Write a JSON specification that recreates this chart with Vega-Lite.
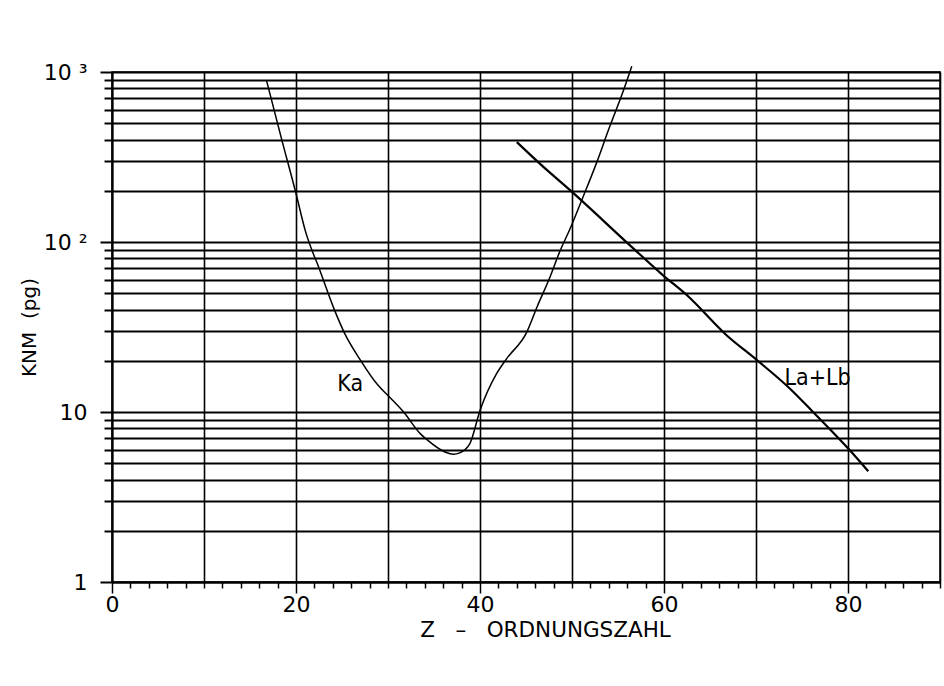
{
  "$schema": "https://vega.github.io/schema/vega-lite/v6.json",
  "width": 828,
  "height": 510,
  "autosize": {"type": "none"},
  "padding": {"left": 112, "top": 72, "right": 4, "bottom": 104},
  "background": "white",
  "config": {
    "view": {"stroke": "black", "strokeWidth": 1.5},
    "axis": {
      "labelFont": "DejaVu Sans",
      "titleFont": "DejaVu Sans",
      "labelColor": "black",
      "titleColor": "black",
      "titleFontWeight": "normal",
      "domainColor": "black",
      "tickColor": "black",
      "gridColor": "black",
      "labelOverlap": false,
      "labelFlush": false
    }
  },
  "datasets": {
    "curves": [
      {"series": "Ka", "z": 16.8, "knm": 890},
      {"series": "Ka", "z": 18.4, "knm": 410},
      {"series": "Ka", "z": 20, "knm": 193},
      {"series": "Ka", "z": 21, "knm": 117},
      {"series": "Ka", "z": 22.6, "knm": 68},
      {"series": "Ka", "z": 24.2, "knm": 39.6},
      {"series": "Ka", "z": 25.3, "knm": 28.9},
      {"series": "Ka", "z": 27, "knm": 20.2},
      {"series": "Ka", "z": 28.9, "knm": 14.4},
      {"series": "Ka", "z": 30, "knm": 12.5},
      {"series": "Ka", "z": 31.7, "knm": 10},
      {"series": "Ka", "z": 33.5, "knm": 7.46},
      {"series": "Ka", "z": 34.2, "knm": 6.9},
      {"series": "Ka", "z": 36.2, "knm": 5.82},
      {"series": "Ka", "z": 37.1, "knm": 5.64},
      {"series": "Ka", "z": 37.8, "knm": 5.75},
      {"series": "Ka", "z": 38.9, "knm": 6.52},
      {"series": "Ka", "z": 40, "knm": 10.2},
      {"series": "Ka", "z": 41.8, "knm": 16.8},
      {"series": "Ka", "z": 42.9, "knm": 20.6},
      {"series": "Ka", "z": 45.1, "knm": 29.6},
      {"series": "Ka", "z": 46.2, "knm": 41.5},
      {"series": "Ka", "z": 47.6, "knm": 62},
      {"series": "Ka", "z": 48.6, "knm": 86},
      {"series": "Ka", "z": 49.8, "knm": 120},
      {"series": "Ka", "z": 51.2, "knm": 184},
      {"series": "Ka", "z": 52.7, "knm": 295},
      {"series": "Ka", "z": 53.95, "knm": 454},
      {"series": "Ka", "z": 55.6, "knm": 780},
      {"series": "Ka", "z": 56.5, "knm": 1080},
      {"series": "La+Lb", "z": 44, "knm": 387},
      {"series": "La+Lb", "z": 46.5, "knm": 289},
      {"series": "La+Lb", "z": 50, "knm": 197},
      {"series": "La+Lb", "z": 56.3, "knm": 95.6},
      {"series": "La+Lb", "z": 59.9, "knm": 63.7},
      {"series": "La+Lb", "z": 62.5, "knm": 48.6},
      {"series": "La+Lb", "z": 66.8, "knm": 28.3},
      {"series": "La+Lb", "z": 70.1, "knm": 20.2},
      {"series": "La+Lb", "z": 73.7, "knm": 13.7},
      {"series": "La+Lb", "z": 76.2, "knm": 10},
      {"series": "La+Lb", "z": 80.2, "knm": 5.95},
      {"series": "La+Lb", "z": 82.2, "knm": 4.48}
    ],
    "labels": [
      {"label": "Ka", "z": 25.9, "knm": 14.7},
      {"label": "La+Lb", "z": 76.7, "knm": 15.8}
    ]
  },
  "layer": [
    {
      "data": {"name": "curves"},
      "mark": {"type": "line", "color": "black", "interpolate": "monotone"},
      "encoding": {
        "x": {
          "field": "z",
          "type": "quantitative",
          "scale": {"domain": [0, 90], "nice": false, "zero": false},
          "axis": {
            "values": [0,2,4,6,8,10,12,14,16,18,20,22,24,26,28,30,32,34,36,38,40,42,44,46,48,50,52,54,56,58,60,62,64,66,68,70,72,74,76,78,80,82,84,86,88,90],
            "tickCount": 200,
            "format": "d",
            "labelExpr": "datum.value % 20 == 0 ? datum.label : ''",
            "grid": true,
            "gridOpacity": {"condition": {"test": "datum.value % 10 == 0", "value": 1}, "value": 0},
            "gridWidth": 1.6,
            "tickSize": {"condition": {"test": "datum.value % 20 == 0", "value": 11}, "value": 6},
            "tickWidth": 1.5,
            "domainWidth": 2,
            "labelFontSize": 22,
            "labelPadding": 1,
            "title": "Z\u00a0\u00a0\u00a0–\u00a0\u00a0\u00a0ORDNUNGSZAHL",
            "titleFontSize": 21.5,
            "titlePadding": 4,
            "titleX": 433
          }
        },
        "y": {
          "field": "knm",
          "type": "quantitative",
          "scale": {"type": "log", "domain": [1, 1000], "nice": false},
          "axis": {
            "values": [1,2,3,4,5,6,7,8,9,10,20,30,40,50,60,70,80,90,100,200,300,400,500,600,700,800,900,1000],
            "tickCount": 200,
            "labelExpr": "datum.value == 1000 ? '10 ³' : datum.value == 100 ? '10 ²' : datum.value == 10 ? '10' : datum.value == 1 ? '1' : ''",
            "grid": true,
            "gridWidth": 2,
            "tickSize": {"condition": {"test": "datum.value == 1 || datum.value == 10 || datum.value == 100 || datum.value == 1000", "value": 12}, "value": 8},
            "tickWidth": 2,
            "domainWidth": 2,
            "labelFontSize": 22,
            "labelPadding": 13,
            "title": "KNM\u00a0\u00a0(pg)",
            "titleFontSize": 20,
            "titlePadding": 4
          }
        },
        "detail": {"field": "series", "type": "nominal"},
        "strokeWidth": {"field": "series", "type": "nominal", "scale": {"domain": ["Ka", "La+Lb"], "range": [1.5, 2.2]}, "legend": null}
      }
    },
    {
      "data": {"name": "labels"},
      "mark": {"type": "text", "font": "DejaVu Sans Condensed, sans-serif", "fontSize": 23, "color": "black"},
      "encoding": {
        "x": {"field": "z", "type": "quantitative"},
        "y": {"field": "knm", "type": "quantitative"},
        "text": {"field": "label"}
      }
    }
  ]
}
